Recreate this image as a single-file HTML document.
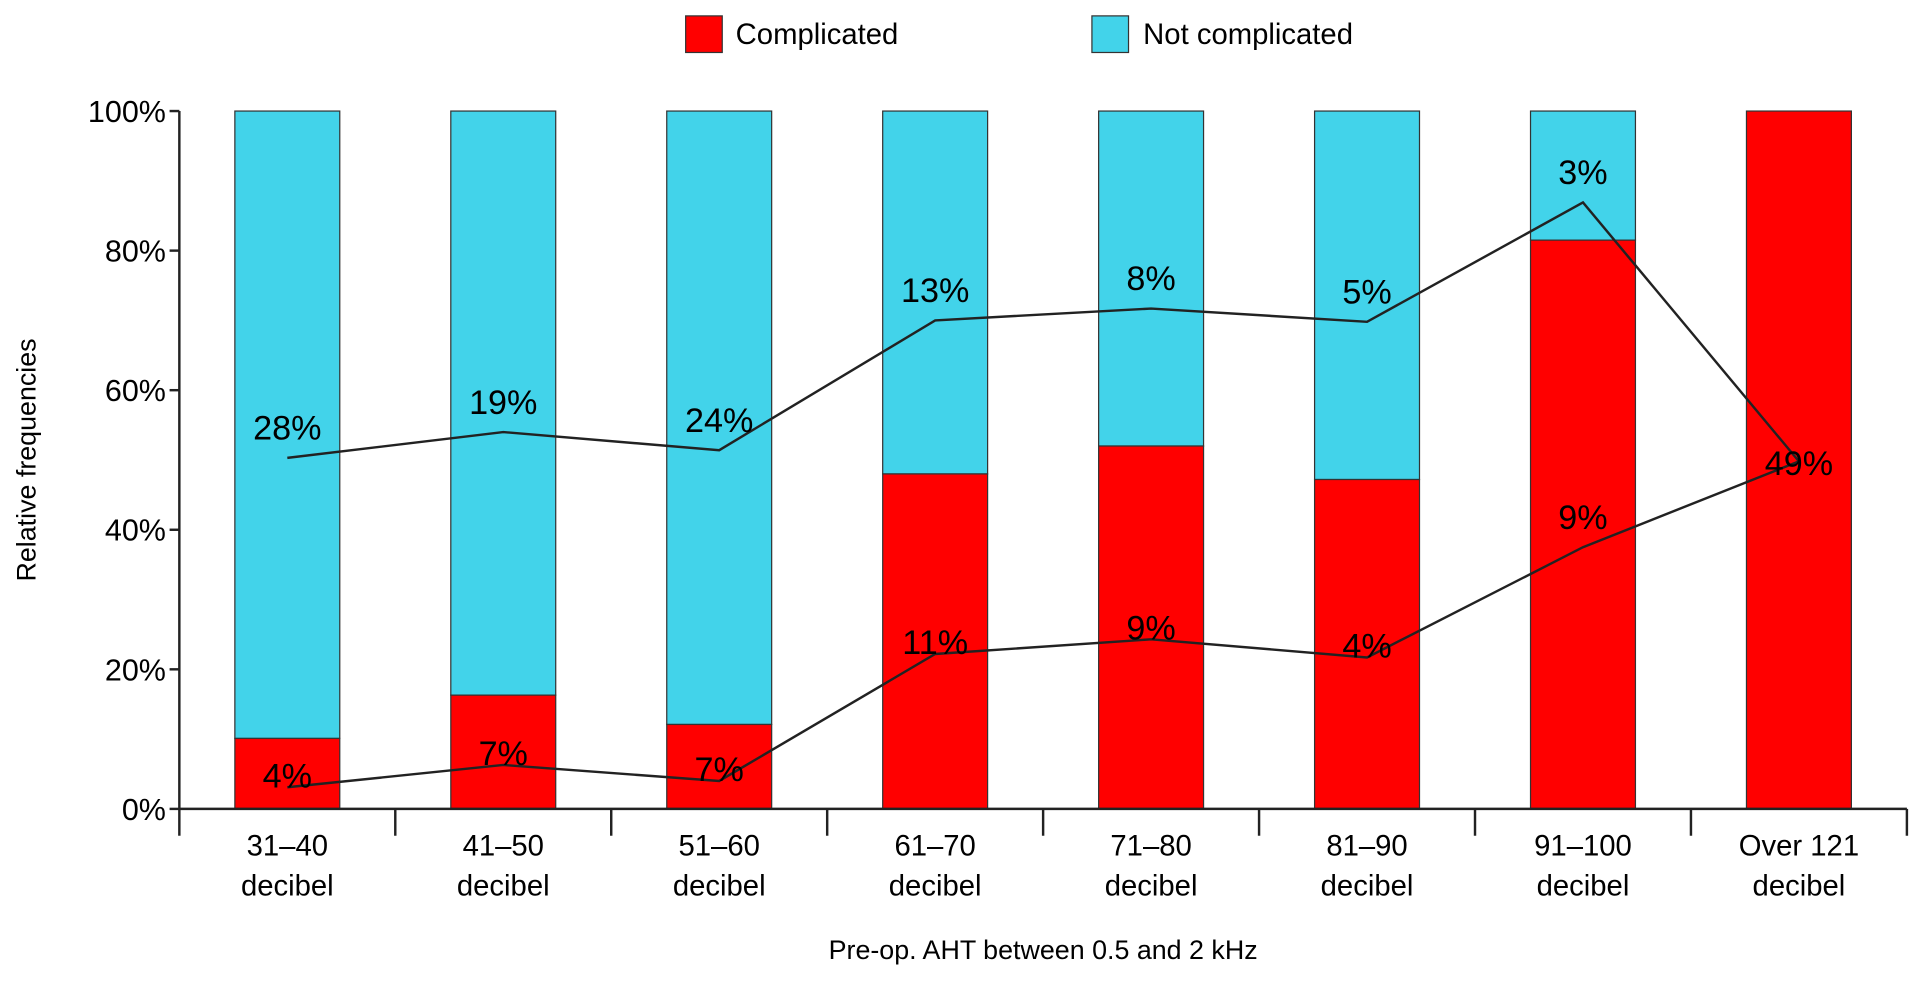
<!DOCTYPE html>
<html><head><meta charset="utf-8"><style>
html,body{margin:0;padding:0;background:#fff;}
svg{display:block;font-family:"Liberation Sans",Arial,sans-serif;}
</style></head><body>
<svg id="chart" width="1913" height="984" viewBox="0 0 1568 806.5" xmlns="http://www.w3.org/2000/svg">
<g>
<rect x="562" y="13" width="30" height="30" fill="#ff0000" stroke="#333" stroke-width="1"/>
<text x="603" y="36" font-size="24">Complicated</text>
<rect x="895" y="13" width="30" height="30" fill="#42d3ea" stroke="#333" stroke-width="1"/>
<text x="937" y="36" font-size="24">Not complicated</text>
</g>
<g id="bars"></g>
<g id="lines"></g>
<g id="axes"></g>
<text transform="translate(29,377) rotate(-90)" text-anchor="middle" font-size="22">Relative frequencies</text>
<text x="855" y="786" text-anchor="middle" font-size="22">Pre-op. AHT between 0.5 and 2 kHz</text>
</svg>
<script>
const categories1 = ["31–40","41–50","51–60","61–70","71–80","81–90","91–100","Over 121"];
const categories2 = ["decibel","decibel","decibel","decibel","decibel","decibel","decibel","decibel"];
const complicated = [10.1,16.3,12.1,48,52,47.2,81.5,100];
const upperLine = [50.3,54,51.4,70,71.7,69.8,86.9,49.8];
const lowerLine = [3.1,6.3,4,22.2,24.3,21.7,37.5,49.8];
const upperLabels = ["28%","19%","24%","13%","8%","5%","3%","49%"];
const lowerLabels = ["4%","7%","7%","11%","9%","4%","9%",""];
const yTicks = [0,20,40,60,80,100];

const NS="http://www.w3.org/2000/svg";
const x0=147,x1=1563,yBase=663,yTop=91,barW=86;
const step=(x1-x0)/categories1.length;
const xc=i=>x0+step*(i+0.5);
const y=v=>yBase-(yBase-yTop)*v/100;
function mk(tag,attrs,parent){const e=document.createElementNS(NS,tag);for(const k in attrs)e.setAttribute(k,attrs[k]);parent.appendChild(e);return e;}
const bars=document.getElementById('bars'),lines=document.getElementById('lines'),axes=document.getElementById('axes');
complicated.forEach((v,i)=>{
 const nc=mk('rect',{x:xc(i)-barW/2,y:y(100),width:barW,height:y(v)-y(100),fill:'#42d3ea',stroke:'#333','stroke-width':1},bars);
 
 
 const c=mk('rect',{x:xc(i)-barW/2,y:y(v),width:barW,height:yBase-y(v),fill:'#ff0000',stroke:'#333','stroke-width':1},bars);
 
 
});
[[upperLine,'upper-line'],[lowerLine,'lower-line']].forEach(([arr,n])=>{
 const p=mk('polyline',{points:arr.map((v,i)=>xc(i)+','+y(v)).join(' '),fill:'none',stroke:'#222','stroke-width':2},lines);
 
 
});
upperLabels.forEach((t,i)=>{
 const last=i===upperLabels.length-1;
 const e=mk('text',{x:xc(i),y:last?y(upperLine[i])+11:y(upperLine[i])-15,'text-anchor':'middle','font-size':28},lines);
 e.textContent=t;
 
 
});
lowerLabels.forEach((t,i)=>{
 if(!t)return;
 const e=mk('text',{x:xc(i),y:y(lowerLine[i])+(i===6?-15:0),'text-anchor':'middle','font-size':28},lines);
 e.textContent=t;
 
 
});
const ya=mk('line',{x1:x0,y1:yTop,x2:x0,y2:yBase,stroke:'#222','stroke-width':2},axes);


yTicks.forEach(v=>{
 const l=mk('line',{x1:x0-8,y1:y(v),x2:x0,y2:y(v),stroke:'#222','stroke-width':2},axes);
 
 
 const t=mk('text',{x:x0-11,y:y(v)+9,'text-anchor':'end','font-size':25},axes);
 t.textContent=v+'%';
 
 
});
const xa=mk('line',{x1:x0,y1:yBase,x2:x1,y2:yBase,stroke:'#222','stroke-width':2},axes);


for(let i=0;i<=categories1.length;i++){
 const l=mk('line',{x1:x0+step*i,y1:yBase,x2:x0+step*i,y2:yBase+22,stroke:'#222','stroke-width':2},axes);
 
 
}
categories1.forEach((c,i)=>{
 const t=mk('text',{x:xc(i),y:701,'text-anchor':'middle','font-size':24},axes);
 t.textContent=c;
 
 
 const t2=mk('text',{x:xc(i),y:734,'text-anchor':'middle','font-size':24},axes);
 t2.textContent=categories2[i];
 
 
});
</script>
</body></html>
